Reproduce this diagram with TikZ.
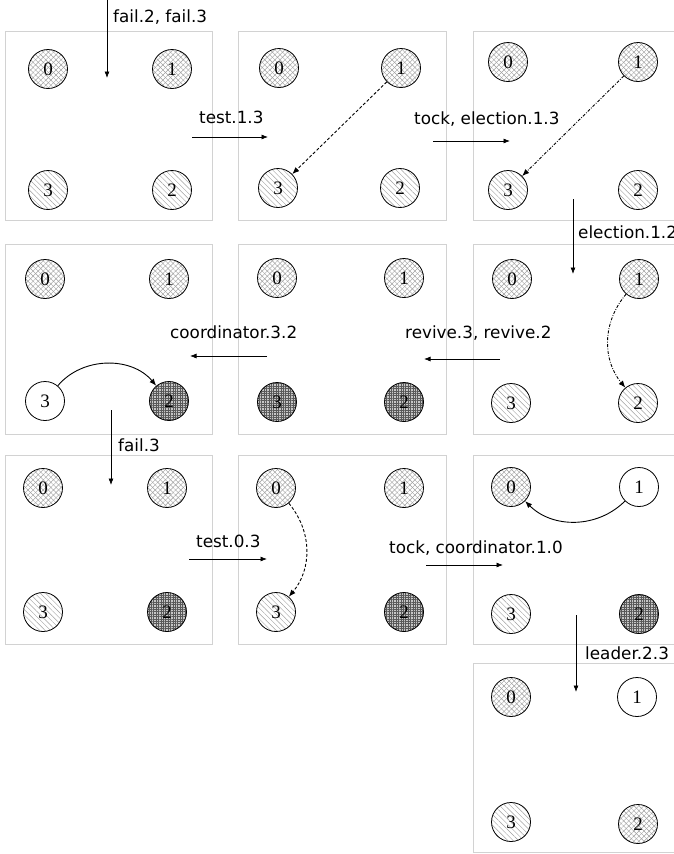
\documentclass[tikz,border=0pt]{standalone}
\usepackage{fontspec}
\setmainfont{Liberation Serif}
\newfontfamily\labfont{DejaVu Sans}
\usetikzlibrary{patterns.meta,arrows.meta}
\begin{document}
\begin{tikzpicture}[x=1pt,y=-1pt,
  st/.style={circle, draw, line width=0.8pt, minimum size=39pt, inner sep=0pt, font=\fontsize{19}{19}\selectfont},
  up/.style={st,
    preaction={pattern={Lines[angle=45,distance=3.6pt,line width=0.45pt]},pattern color=gray!75},
    preaction={pattern={Lines[angle=-45,distance=3.6pt,line width=0.45pt]},pattern color=gray!75}},
  dn/.style={st,
    preaction={pattern={Lines[angle=-45,distance=3.8pt,line width=0.45pt]},pattern color=gray!75}},
  dk/.style={st, preaction={fill=gray!45},
    preaction={pattern={Lines[angle=0,distance=2.4pt,line width=0.5pt]},pattern color=gray!70!black},
    preaction={pattern={Lines[angle=90,distance=2.4pt,line width=0.5pt]},pattern color=gray!70!black}},
  wt/.style={st, fill=white},
  boxs/.style={draw=gray!35, line width=1pt},
  trans/.style={-{Latex[length=6.5pt,width=5pt]}, line width=0.7pt},
  inner/.style={-{Latex[length=7pt,width=5.5pt]}, line width=0.9pt},
  dsh/.style={dash pattern=on 3pt off 2pt},
  dshdot/.style={dash pattern=on 3pt off 1.5pt on 0.8pt off 1.5pt},
  lab/.style={font=\labfont\fontsize{16.8}{18}\selectfont, inner sep=0pt, anchor=base west}
]
\useasboundingbox (0,0) rectangle (674,854);
% boxes
\draw[boxs] (5,31) rectangle (212,220);
\draw[boxs] (238,31) rectangle (446,220);
\draw[boxs] (473,31) rectangle (690,220);
\draw[boxs] (5,244) rectangle (212,434);
\draw[boxs] (238,244) rectangle (446,434);
\draw[boxs] (473,244) rectangle (690,434);
\draw[boxs] (5,455) rectangle (212,644);
\draw[boxs] (238,455) rectangle (446,644);
\draw[boxs] (473,455) rectangle (690,644);
\draw[boxs] (473,663) rectangle (690,852);

% row 1
\node[up] (a0) at (48,69) {0};
\node[up] (a1) at (172,69) {1};
\node[dn] (a3) at (48,190) {3};
\node[dn] (a2) at (172,190) {2};

\node[up] (b0) at (279,68) {0};
\node[up] (b1) at (401,68) {1};
\node[dn] (b3) at (278,188) {3};
\node[dn] (b2) at (400,188) {2};

\node[up] (c0) at (508,62) {0};
\node[up] (c1) at (638,62) {1};
\node[dn] (c3) at (508,190) {3};
\node[dn] (c2) at (638,190) {2};

% row 2
\node[up] (d0) at (45,279) {0};
\node[up] (d1) at (169,279) {1};
\node[wt] (d3) at (45,401) {3};
\node[dk] (d2) at (169,401) {2};

\node[up] (e0) at (277,278) {0};
\node[up] (e1) at (404,278) {1};
\node[dk] (e3) at (277,402) {3};
\node[dk] (e2) at (404,402) {2};

\node[up] (f0) at (512,279) {0};
\node[up] (f1) at (639,279) {1};
\node[dn] (f3) at (511,403) {3};
\node[dn] (f2) at (638,403) {2};

% row 3
\node[up] (g0) at (43,488) {0};
\node[up] (g1) at (167,488) {1};
\node[dn] (g3) at (43,612) {3};
\node[dk] (g2) at (167,612) {2};

\node[up] (h0) at (276,488) {0};
\node[up] (h1) at (404,488) {1};
\node[dn] (h3) at (276,612) {3};
\node[dk] (h2) at (404,612) {2};

\node[up] (i0) at (511,487) {0};
\node[wt] (i1) at (639,487) {1};
\node[dn] (i3) at (511,614) {3};
\node[dk] (i2) at (639,614) {2};

% row 4
\node[up] (j0) at (511,697) {0};
\node[wt] (j1) at (637,697) {1};
\node[dn] (j3) at (511,822) {3};
\node[up] (j2) at (638,824) {2};

% inner arrows
\draw[inner,dsh] (b1) -- (b3);
\draw[inner,dshdot] (c1) -- (c3);
\draw[inner] (d3) to[bend left=50] (d2);
\draw[inner,dshdot] (f1) to[bend right=40] (f2);
\draw[inner,dsh] (h0) to[bend left=40] (h3);
\draw[inner] (i1) to[bend left=45] (i0);

% transitions
\coordinate (t1s) at (107,0);   \coordinate (t1e) at (107,78);
\coordinate (t2s) at (192,137); \coordinate (t2e) at (268,137);
\coordinate (t3s) at (433,141); \coordinate (t3e) at (510,141);
\coordinate (t4s) at (573,199); \coordinate (t4e) at (573,274);
\coordinate (t5s) at (500,359); \coordinate (t5e) at (424,359);
\coordinate (t6s) at (267,356); \coordinate (t6e) at (190,356);
\coordinate (t7s) at (111,410); \coordinate (t7e) at (111,485);
\coordinate (t8s) at (189,559); \coordinate (t8e) at (267,559);
\coordinate (t9s) at (426,565); \coordinate (t9e) at (503,565);
\coordinate (t10s) at (576,615); \coordinate (t10e) at (576,692);
\draw[trans] (t1s) -- (t1e);
\draw[trans] (t2s) -- (t2e);
\draw[trans] (t3s) -- (t3e);
\draw[trans] (t4s) -- (t4e);
\draw[trans] (t5s) -- (t5e);
\draw[trans] (t6s) -- (t6e);
\draw[trans] (t7s) -- (t7e);
\draw[trans] (t8s) -- (t8e);
\draw[trans] (t9s) -- (t9e);
\draw[trans] (t10s) -- (t10e);

\node[lab] (l1) at (113,22) {fail.2, fail.3};
\node[lab] (l2) at (199,123) {test.1.3};
\node[lab] (l3) at (414,124) {tock, election.1.3};
\node[lab] (l4) at (578,238) {election.1.2};
\node[lab] (l5) at (405,338) {revive.3, revive.2};
\node[lab] (l6) at (170,338) {coordinator.3.2};
\node[lab] (l7) at (118,451) {fail.3};
\node[lab] (l8) at (196,547) {test.0.3};
\node[lab] (l9) at (389,553) {tock, coordinator.1.0};
\node[lab] (l10) at (585,659) {leader.2.3};
\end{tikzpicture}
\end{document}
